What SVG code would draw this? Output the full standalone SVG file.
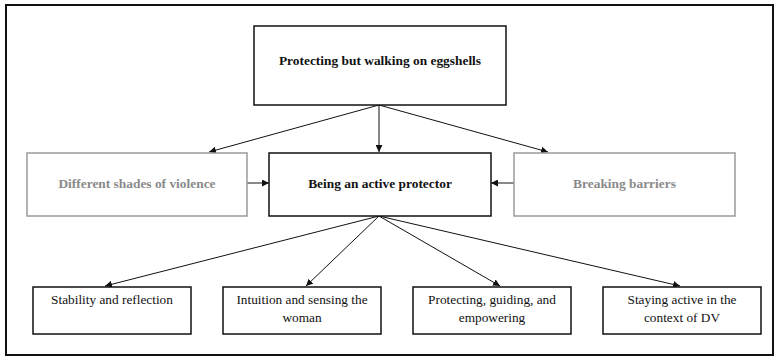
<svg xmlns="http://www.w3.org/2000/svg" width="779" height="356" viewBox="0 0 779 356">
<defs>
<marker id="ah" viewBox="0 0 10 10" refX="10" refY="5" markerWidth="7" markerHeight="7" markerUnits="userSpaceOnUse" orient="auto">
<path d="M0,0 L10,5 L0,10 z" fill="#111"/>
</marker>
<style>
.box{fill:#fff;stroke:#111;stroke-width:1.5}
.gbox{fill:#fff;stroke:#9a9a9a;stroke-width:1.5}
.t{font-family:"Liberation Serif","Times New Roman",serif;text-anchor:middle;fill:#111}
.b{font-weight:bold;font-size:13.4px}
.g{fill:#8a8a8a}
.n{font-size:13.3px}
.c{fill:none;stroke:#111;stroke-width:1;marker-end:url(#ah)}
</style>
</defs>
<rect x="6" y="5" width="767" height="350" fill="#fff" stroke="#111" stroke-width="2"/>
<g id="connectors">
<line class="c" x1="379" y1="105" x2="209" y2="152"/>
<line class="c" x1="379" y1="105" x2="379" y2="152"/>
<line class="c" x1="379" y1="105" x2="548" y2="152"/>
<line class="c" x1="247" y1="183" x2="269" y2="183"/>
<line class="c" x1="514" y1="183" x2="491" y2="183"/>
<line class="c" x1="379" y1="216" x2="105" y2="286"/>
<line class="c" x1="379" y1="216" x2="306" y2="286"/>
<line class="c" x1="379" y1="216" x2="500" y2="286"/>
<line class="c" x1="379" y1="216" x2="680" y2="286"/>
</g>
<g id="n-top">
<rect class="box" x="254" y="26" width="252" height="79"/>
<text class="t b" x="380" y="64.5">Protecting but walking on eggshells</text>
</g>
<g id="n-left">
<rect class="gbox" x="27" y="153" width="220" height="63"/>
<text class="t b g" x="137" y="187.5">Different shades of violence</text>
</g>
<g id="n-center">
<rect class="box" x="269" y="153" width="222" height="63"/>
<text class="t b" x="380" y="187.5">Being an active protector</text>
</g>
<g id="n-right">
<rect class="gbox" x="514" y="153" width="221" height="63"/>
<text class="t b g" x="624.5" y="187.5">Breaking barriers</text>
</g>
<g id="n-b1">
<rect class="box" x="33" y="287" width="158" height="47"/>
<text class="t n" x="112" y="303.5">Stability and reflection</text>
</g>
<g id="n-b2">
<rect class="box" x="223" y="287" width="158" height="47"/>
<text class="t n" x="302" y="303.5">Intuition and sensing the</text>
<text class="t n" x="302" y="321.5">woman</text>
</g>
<g id="n-b3">
<rect class="box" x="413" y="287" width="158" height="47"/>
<text class="t n" x="492" y="303.5">Protecting, guiding, and</text>
<text class="t n" x="492" y="321.5">empowering</text>
</g>
<g id="n-b4">
<rect class="box" x="603" y="287" width="158" height="47"/>
<text class="t n" x="682" y="303.5">Staying active in the</text>
<text class="t n" x="682" y="321.5">context of DV</text>
</g>
</svg>
